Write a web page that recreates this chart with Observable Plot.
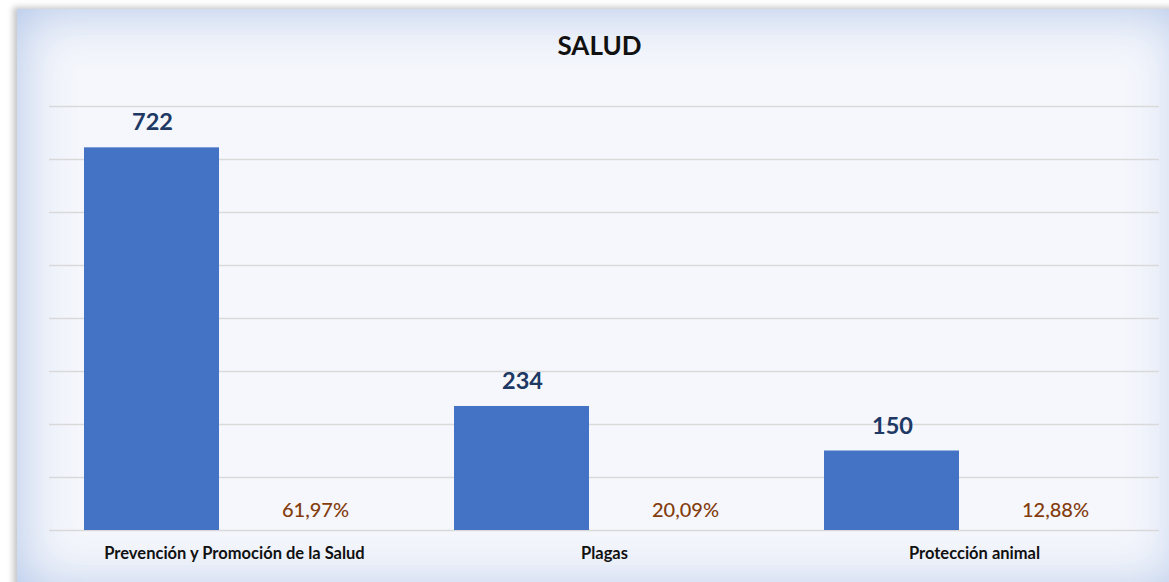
<!DOCTYPE html>
<html>
<head>
<meta charset="utf-8">
<script src="https://cdn.jsdelivr.net/npm/d3@7"></script>
<script src="https://cdn.jsdelivr.net/npm/@observablehq/plot@0.6"></script>
<style>
  html, body { margin: 0; padding: 0; background: #ffffff; }
  #wrap { position: relative; width: 1169px; height: 582px; overflow: hidden; font-family: Lato, "Open Sans", sans-serif; }
  #frame {
    position: absolute; left: 17px; top: 9px; width: 1168px; height: 582px;
    background: #f5f7fc;
    box-shadow: -4px -2px 6px rgba(0,0,0,0.22), inset 0 0 55px rgba(165,188,228,0.9);
  }
  #title {
    position: absolute; left: 0; width: 1199px; top: 29px; text-align: center;
    font-size: 26px; font-weight: 700; color: #111;
  }
  #chart { position: absolute; left: 0; top: 0; }
</style>
</head>
<body>
<div id="wrap">
  <div id="frame"></div>
  <div id="title">SALUD</div>
  <div id="chart"></div>
</div>
<script>
const categories = ["Prevención y Promoción de la Salud", "Plagas", "Protección animal"];
const counts = [722, 234, 150];
const percentLabels = ["61,97%", "20,09%", "12,88%"];
const yTicks = [0, 100, 200, 300, 400, 500, 600, 700, 800];

const data = categories.map((c, i) => ({ category: c, count: counts[i], pct: percentLabels[i] }));

const chart = Plot.plot({
  width: 1169,
  height: 582,
  marginLeft: 49,
  marginRight: 10,
  marginTop: 106,
  marginBottom: 52,
  style: { background: "transparent", fontFamily: "Lato, 'Open Sans', sans-serif", overflow: "visible" },
  x: { domain: categories, padding: 0, axis: null },
  y: { domain: [0, 800], axis: null },
  marks: [
    Plot.ruleY(yTicks, { stroke: "#d9d9d9", strokeWidth: 1.6 }),
    Plot.barY(data, { x: "category", y: "count", fill: "#4472c4", insetLeft: 35, insetRight: 200 }),
    Plot.text(data, { x: "category", y: "count", text: d => String(d.count), dx: -82, dy: -25,
      fill: "#203864", fontSize: 23.5, fontWeight: 700 }),
    Plot.text(data, { x: "category", y: () => 0, text: "pct", dx: 81, dy: -20,
      fill: "#843c0c", fontSize: 20, fontWeight: 500 }),
    Plot.text(data, { x: "category", y: () => 0, text: "category", dy: 23,
      fill: "#111", fontSize: 16.5, fontWeight: 700 })
  ]
});
document.getElementById("chart").appendChild(chart);
</script>
</body>
</html>
